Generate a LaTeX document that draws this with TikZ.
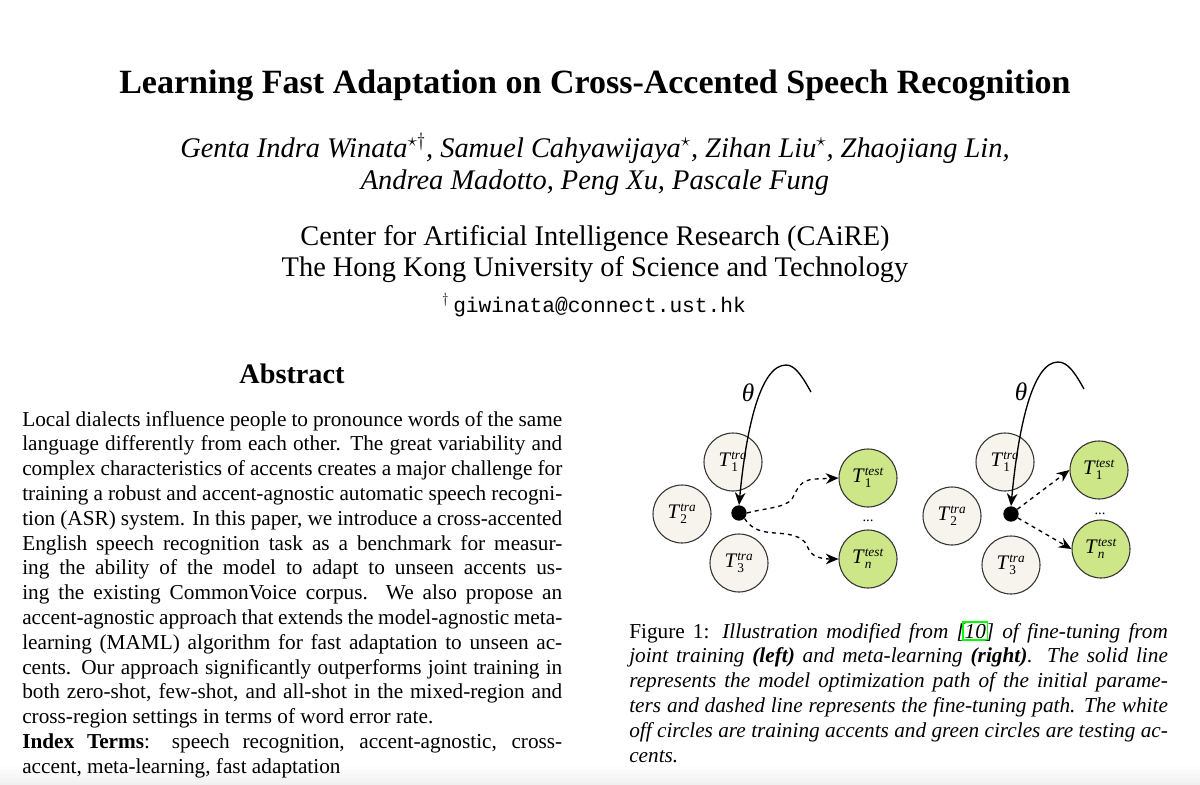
\documentclass[tikz,border=0pt]{standalone}
\usepackage{fontspec}
\setmainfont{Liberation Serif}
\setmonofont{Liberation Mono}
\usetikzlibrary{arrows.meta,positioning}
\definecolor{trafill}{HTML}{F6F4EC}
\definecolor{testfill}{HTML}{CDE688}
\definecolor{citebox}{HTML}{00FF00}
\newcommand{\citeten}{\hspace{-2pt}{\setlength{\fboxsep}{0.8pt}\setlength{\fboxrule}{1.1pt}\color{citebox}\fbox{\color{black}10}}\hspace{-2pt}}
\newcommand{\tsk}[2]{\textit{T}$_{\hbox{\fontsize{10}{10}\selectfont #1}}^{\hbox{\fontsize{10}{10}\selectfont\itshape #2}}$}
\tikzset{
  body/.style={anchor=base west,inner sep=0pt,font=\fontsize{15.95}{19}\selectfont},
  heading/.style={anchor=base,inner sep=0pt,align=center},
  tra/.style={draw=black!80,line width=0.8pt,circle,fill=trafill,minimum size=43.5pt,inner sep=0pt,font=\fontsize{15.5}{18}\selectfont},
  tst/.style={draw=black!80,line width=0.8pt,circle,fill=testfill,minimum size=43.5pt,inner sep=0pt,font=\fontsize{15.5}{18}\selectfont},
  spot/.style={circle,fill=black,minimum size=11.5pt,inner sep=0pt},
  small/.style={inner sep=0pt,font=\fontsize{11}{13}\selectfont},
  greek/.style={inner sep=0pt,font=\fontsize{19}{22}\itshape},
  path line/.style={-{Stealth[length=9.5pt,width=8pt]},line width=1pt}
}
\begin{document}
\begin{tikzpicture}[x=0.75pt,y=-0.75pt]
  \useasboundingbox (0,0) rectangle (1200,785);
  \fill[top color=white,bottom color=black!6,draw=none] (0,765) rectangle (1200,785);

  % header
  \node[heading,font=\fontsize{25.5}{30}\bfseries] (title) at (595,93) {Learning Fast Adaptation on Cross-Accented Speech Recognition};
  \node[heading,font=\fontsize{21.3}{25}\itshape] (authA) at (595,157) {Genta Indra Winata$^{\star\dagger}$, Samuel Cahyawijaya$^{\star}$, Zihan Liu$^{\star}$, Zhaojiang Lin,};
  \node[heading,font=\fontsize{21.3}{25}\itshape] (authB) at (595,189) {Andrea Madotto, Peng Xu, Pascale Fung};
  \node[heading,font=\fontsize{21.3}{25}\selectfont] (instA) at (595,245) {Center for Artificial Intelligence Research (CAiRE)};
  \node[heading,font=\fontsize{21.3}{25}\selectfont] (instB) at (595,276) {The Hong Kong University of Science and Technology};
  \node[heading,font=\fontsize{15.9}{18}\ttfamily] (mail) at (594,312) {$^{\dagger}$\hspace{3pt}giwinata@connect.ust.hk};
  \node[heading,font=\fontsize{21.2}{25}\bfseries] (abstract) at (292,383) {Abstract};

  % abstract text
  \foreach \i [count=\n] in {
    {Local dialects influence people to pronounce words of the same},
    {language differently from each other. The great variability and},
    {complex characteristics of accents creates a major challenge for},
    {training a robust and accent-agnostic automatic speech recogni-},
    {tion (ASR) system. In this paper, we introduce a cross-accented},
    {English speech recognition task as a benchmark for measur-},
    {ing the ability of the model to adapt to unseen accents us-},
    {ing the existing CommonVoice corpus. We also propose an},
    {accent-agnostic approach that extends the model-agnostic meta-},
    {learning (MAML) algorithm for fast adaptation to unseen ac-},
    {cents. Our approach significantly outperforms joint training in},
    {both zero-shot, few-shot, and all-shot in the mixed-region and}}
    \node[body] (L\n) at (22,426+24.8*\n-24.8) {\makebox[405pt][s]{\i}};
  \node[body] (L13) at (22,723.6) {cross-region settings in terms of word error rate.};
  \node[body] (L14) at (22,748.4) {\makebox[405pt][s]{\textbf{Index Terms}: speech recognition, accent-agnostic, cross-}};
  \node[body] (L15) at (22,773) {accent, meta-learning, fast adaptation};

  % caption text
  \foreach \i [count=\n] in {
    {Figure 1: \textit{Illustration modified from [\citeten] of fine-tuning from}},
    {\textit{joint training \textbf{(left)} and meta-learning \textbf{(right)}. The solid line}},
    {\textit{represents the model optimization path of the initial parame-}},
    {\textit{ters and dashed line represents the fine-tuning path. The white}},
    {\textit{off circles are training accents and green circles are testing ac-}}}
    \node[body] (C\n) at (629,638+24.8*\n-24.8) {\makebox[404pt][s]{\i}};
  \node[body] (C6) at (629,762) {\textit{cents.}};

  % left figure
  \node[tra] (Atra1) at (733,462) {\tsk{1}{tra}};
  \node[tra] (Atra2) at (682,514) {\tsk{2}{tra}};
  \node[tra] (Atra3) at (739,563) {\tsk{3}{tra}};
  \node[tst] (Atest1) at (868,478) {\tsk{1}{test}};
  \node[tst] (Atestn) at (868,559) {\tsk{\itshape n}{test}};
  \node[spot] (Aspot) at (739,513) {};
  \node[small] (Adots) at (868,521) {...};
  \node[greek] (Atheta) at (748,393) {θ};
  \coordinate (Astart) at (811,392);

  % right figure
  \node[tra] (Btra1) at (1005,462) {\tsk{1}{tra}};
  \node[tra] (Btra2) at (952,516) {\tsk{2}{tra}};
  \node[tra] (Btra3) at (1011,565) {\tsk{3}{tra}};
  \node[tst] (Btest1) at (1099,470) {\tsk{1}{test}};
  \node[tst] (Btestn) at (1101,549) {\tsk{\itshape n}{test}};
  \node[spot] (Bspot) at (1011,514) {};
  \node[small] (Bdots) at (1100,514) {...};
  \node[greek] (Btheta) at (1021,392) {θ};
  \coordinate (Bstart) at (1084,389);

  \draw[path line] (Astart) .. controls (802,376) and (795,365) .. (786,365) .. controls (760,365) and (746,430) .. (Aspot.north);
  \draw[path line] (Bstart) .. controls (1075,373) and (1068,362) .. (1058,362) .. controls (1032,362) and (1018,430) .. (Bspot.north);

  \draw[path line,dashed] (Aspot.east) .. controls (765,508) and (785,508) .. (792,499) .. controls (798,488) and (800,480) .. (815,479) -- (Atest1.west);
  \draw[path line,dashed] (Aspot.south east) .. controls (752,530) and (762,532) .. (775,533) .. controls (795,534) and (805,538) .. (808,548) .. controls (811,556) and (820,559) .. (Atestn.west);
  \draw[path line,dashed] (Bspot) -- (Btest1.west);
  \draw[path line,dashed] (Bspot) -- (Btestn.west);
\end{tikzpicture}
\end{document}
